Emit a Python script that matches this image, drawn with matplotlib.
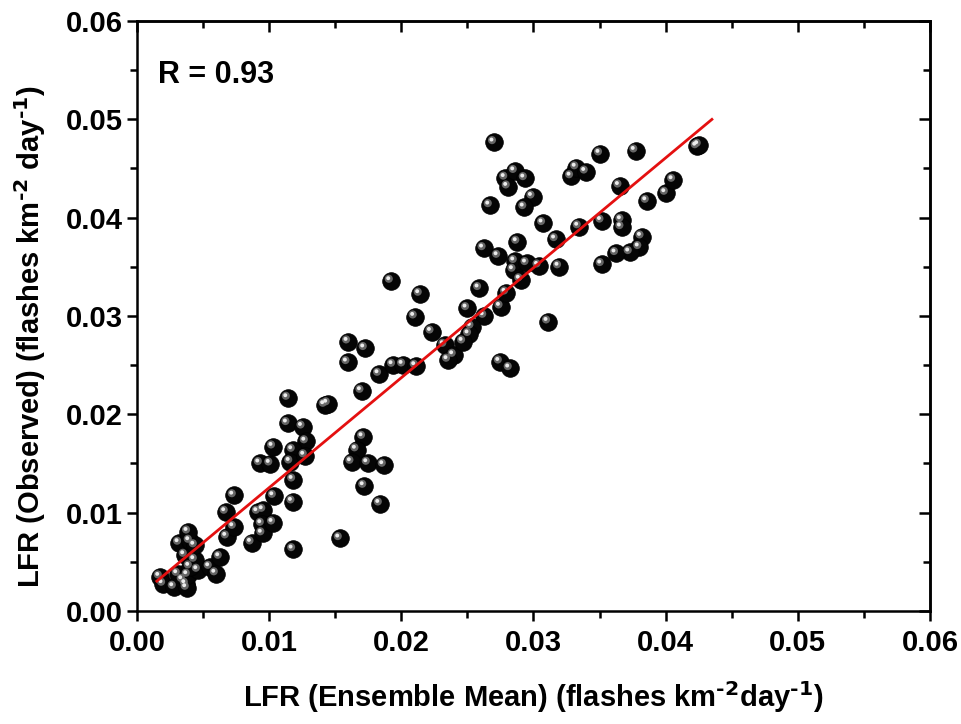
import numpy as np
import matplotlib
matplotlib.use("Agg")
import matplotlib.pyplot as plt
from matplotlib.transforms import offset_copy

plt.rcParams.update({
    'font.family': ['Liberation Sans', 'DejaVu Sans'],
    'font.weight': 'bold',
    'mathtext.default': 'regular',
})

# LFR values (flashes km-2 day-1)
ens_mean = [
    0.00174, 0.00199, 0.00280, 0.00371, 0.00348, 0.00378, 0.00310, 0.00386,
    0.00462, 0.00401, 0.00439, 0.00363, 0.00552, 0.00598, 0.00628, 0.00320,
    0.00401, 0.00439, 0.00388, 0.00673, 0.00734, 0.00681, 0.00734, 0.00868,
    0.00916, 0.00957, 0.00946, 0.00950, 0.01031, 0.01037, 0.00931, 0.01010,
    0.01031, 0.01140, 0.01254, 0.01279, 0.01180, 0.01161, 0.01271, 0.01183,
    0.01178, 0.01183, 0.01143, 0.01422, 0.01445, 0.01700, 0.01536, 0.01712,
    0.01662, 0.01624, 0.01748, 0.01869, 0.01721, 0.01839, 0.01599, 0.01725,
    0.01594, 0.01833, 0.01922, 0.02141, 0.02103, 0.02230, 0.02327, 0.02398,
    0.02355, 0.01939, 0.02015, 0.02111, 0.02590, 0.02499, 0.02629, 0.02532,
    0.02514, 0.02469, 0.02752, 0.02794, 0.02850, 0.02902, 0.02747, 0.02822,
    0.03112, 0.02703, 0.02788, 0.02860, 0.02936, 0.02807, 0.02994, 0.02932,
    0.02671, 0.03074, 0.02624, 0.02734, 0.02879, 0.02860, 0.02949, 0.03040,
    0.03169, 0.03195, 0.03344, 0.03286, 0.03325, 0.03397, 0.03505, 0.03652,
    0.03516, 0.03667, 0.03667, 0.03772, 0.03859, 0.04003, 0.04058, 0.04237,
    0.04252, 0.03819, 0.03802, 0.03730, 0.03626, 0.03518,
]
observed = [
    0.00349, 0.00275, 0.00244, 0.00275, 0.00315, 0.00234, 0.00376, 0.00366,
    0.00417, 0.00451, 0.00519, 0.00569, 0.00447, 0.00381, 0.00549, 0.00692,
    0.00712, 0.00666, 0.00806, 0.01007, 0.01175, 0.00756, 0.00854, 0.00695,
    0.01007, 0.01027, 0.00885, 0.00788, 0.00898, 0.01169, 0.01502, 0.01498,
    0.01671, 0.01909, 0.01874, 0.01724, 0.01637, 0.01518, 0.01581, 0.01335,
    0.01112, 0.00627, 0.02166, 0.02095, 0.02110, 0.02237, 0.00739, 0.01769,
    0.01642, 0.01515, 0.01505, 0.01485, 0.01271, 0.01091, 0.02739, 0.02672,
    0.02529, 0.02410, 0.03356, 0.03224, 0.02993, 0.02840, 0.02705, 0.02603,
    0.02553, 0.02502, 0.02505, 0.02492, 0.03282, 0.03078, 0.03000, 0.02891,
    0.02815, 0.02739, 0.03095, 0.03237, 0.03468, 0.03371, 0.02535, 0.02468,
    0.02942, 0.04766, 0.04405, 0.04473, 0.04400, 0.04315, 0.04213, 0.04105,
    0.04125, 0.03943, 0.03688, 0.03610, 0.03753, 0.03557, 0.03536, 0.03512,
    0.03780, 0.03503, 0.03910, 0.04419, 0.04510, 0.04467, 0.04651, 0.04324,
    0.03968, 0.03976, 0.03902, 0.04681, 0.04169, 0.04251, 0.04383, 0.04724,
    0.04739, 0.03807, 0.03699, 0.03648, 0.03638, 0.03526,
]

# fitted line as drawn in the reference
fit_slope = 1.118
fit_intercept = 0.00136
fit_x = [0.0015, 0.0435]
r_value = 0.93

fig = plt.figure(figsize=(9.62, 7.24), dpi=100)
ax = fig.add_axes([0.1424, 0.1561, 0.8243, 0.8149])

# spheres: dark body + offset highlight
ax.scatter(ens_mean, observed, s=160, c='#050505', edgecolors='#000000',
           linewidths=0.6, zorder=3)
hl = offset_copy(ax.transData, fig=fig, x=-1.6, y=1.6, units='points')
ax.scatter(ens_mean, observed, s=34, c='#707070', edgecolors='none',
           transform=hl, zorder=4, alpha=0.9)
hl2 = offset_copy(ax.transData, fig=fig, x=-2.0, y=2.0, units='points')
ax.scatter(ens_mean, observed, s=8, c='#ececec', edgecolors='none',
           transform=hl2, zorder=5)

fx = np.array(fit_x)
ax.plot(fx, fit_slope * fx + fit_intercept, color='#e41010', lw=2.0, zorder=6)

ax.set_xlim(0, 0.06)
ax.set_ylim(0, 0.06)
ax.set_xticks(np.arange(0, 0.061, 0.01))
ax.set_yticks(np.arange(0, 0.061, 0.01))
ax.set_xticks(np.arange(0.005, 0.06, 0.01), minor=True)
ax.set_yticks(np.arange(0.005, 0.06, 0.01), minor=True)
ax.xaxis.set_major_formatter(plt.FuncFormatter(lambda v, p: f'{v:.2f}'))
ax.yaxis.set_major_formatter(plt.FuncFormatter(lambda v, p: f'{v:.2f}'))

for s in ax.spines.values():
    s.set_linewidth(1.8)
ax.tick_params(which='both', direction='out', width=1.8, labelsize=21,
               top=False, right=False)
ax.tick_params(axis='x', pad=6)
ax.tick_params(axis='y', pad=3)
ax.tick_params(which='major', length=7)
ax.tick_params(which='minor', length=5)

# inward ticks on the top and right frame
ax_t = ax.secondary_xaxis('top')
ax_t.set_xticks(np.arange(0, 0.061, 0.01))
ax_t.set_xticks(np.arange(0.005, 0.06, 0.01), minor=True)
ax_t.tick_params(which='both', direction='in', width=1.8, labeltop=False)
ax_t.tick_params(which='major', length=8)
ax_t.tick_params(which='minor', length=5)
ax_r = ax.secondary_yaxis('right')
ax_r.set_yticks(np.arange(0, 0.061, 0.01))
ax_r.set_yticks(np.arange(0.005, 0.06, 0.01), minor=True)
ax_r.tick_params(which='both', direction='in', width=1.8, labelright=False)
ax_r.tick_params(which='major', length=8)
ax_r.tick_params(which='minor', length=5)
for sec in (ax_t, ax_r):
    for s in sec.spines.values():
        s.set_linewidth(1.8)

ax.set_xlabel(r'LFR (Ensemble Mean) (flashes km$^{\text{-2}}$day$^{\text{-1}}$)',
              fontsize=21, fontweight='bold', labelpad=16)
ax.set_ylabel(r'LFR (Observed) (flashes km$^{\text{-2}}$ day$^{\text{-1}}$)',
              fontsize=21, fontweight='bold')
ax.yaxis.set_label_coords(-0.112, 0.465)

ax.text(0.0016, 0.0545, f'R = {r_value:.2f}', fontsize=22,
        fontweight='bold', va='center', ha='left')

fig.savefig('out.png', dpi=100)
